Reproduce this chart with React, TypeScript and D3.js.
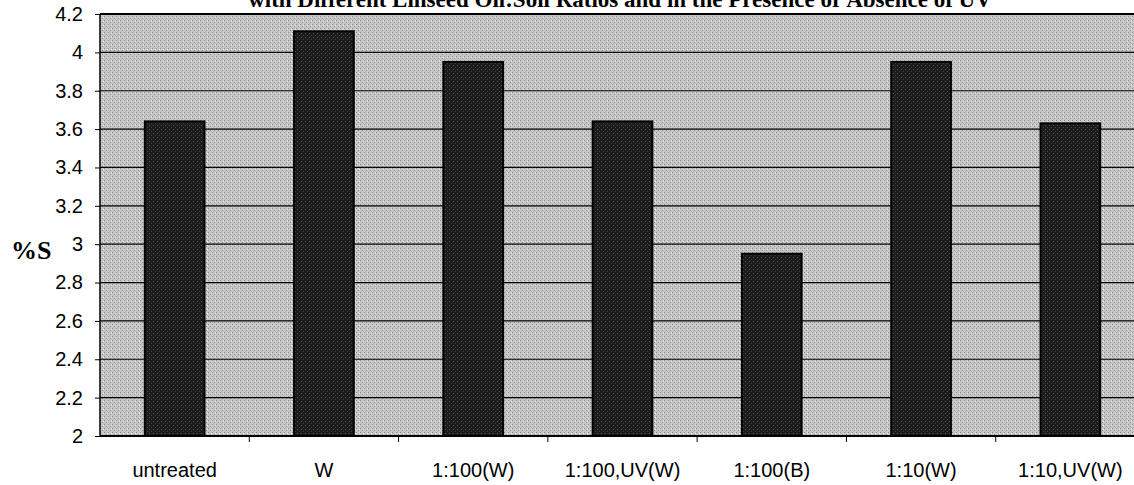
import React, { useEffect, useRef } from 'react';
import * as d3 from 'd3';

const categories = ['untreated', 'W', '1:100(W)', '1:100,UV(W)', '1:100(B)', '1:10(W)', '1:10,UV(W)'];
const sulfur = [3.64, 4.11, 3.95, 3.64, 2.95, 3.95, 3.63];
const yTicks = [2, 2.2, 2.4, 2.6, 2.8, 3, 3.2, 3.4, 3.6, 3.8, 4, 4.2];

const App = () => {
  const svgRef = useRef(null);

  useEffect(() => {
    const width = 1134;
    const height = 485;
    const margin = { top: 14, right: -11, bottom: 49, left: 100 };

    const svg = d3.select(svgRef.current)
      .attr('width', width)
      .attr('height', height);
    svg.selectAll('*').remove();

    const defs = svg.append('defs');
    // dithered grey like the scanned print
    const pat = defs.append('pattern')
      .attr('id', 'dither')
      .attr('width', 4)
      .attr('height', 4)
      .attr('patternUnits', 'userSpaceOnUse');
    pat.append('rect').attr('width', 4).attr('height', 4).attr('fill', '#c6c6c6');
    pat.append('rect').attr('x', 0).attr('y', 0).attr('width', 1).attr('height', 1).attr('fill', '#8a8a8a');
    pat.append('rect').attr('x', 2).attr('y', 2).attr('width', 1).attr('height', 1).attr('fill', '#8a8a8a');
    pat.append('rect').attr('x', 3).attr('y', 1).attr('width', 1).attr('height', 1).attr('fill', '#ececec');

    const barPat = defs.append('pattern')
      .attr('id', 'darkdither')
      .attr('width', 4)
      .attr('height', 4)
      .attr('patternUnits', 'userSpaceOnUse');
    barPat.append('rect').attr('width', 4).attr('height', 4).attr('fill', '#1c1c1c');
    barPat.append('rect').attr('x', 1).attr('y', 1).attr('width', 1).attr('height', 1).attr('fill', '#5a5a5a');
    barPat.append('rect').attr('x', 3).attr('y', 3).attr('width', 1).attr('height', 1).attr('fill', '#444');

    const x = d3.scaleBand()
      .domain(categories)
      .range([margin.left, width - margin.right])
      .paddingInner(0.6)
      .paddingOuter(0.3);

    const y = d3.scaleLinear()
      .domain([2, 4.2])
      .range([height - margin.bottom, margin.top]);

    const x0 = margin.left;
    const x1 = width - margin.right;

    svg.append('rect')
      .attr('x', x0)
      .attr('y', y(4.2))
      .attr('width', x1 - x0)
      .attr('height', y(2) - y(4.2))
      .attr('fill', 'url(#dither)');

    svg.append('g')
      .selectAll('line')
      .data(yTicks)
      .enter()
      .append('line')
      .attr('x1', x0)
      .attr('x2', x1)
      .attr('y1', d => y(d))
      .attr('y2', d => y(d))
      .attr('stroke', '#000')
      .attr('stroke-width', 1.2);

    svg.append('g')
      .selectAll('rect')
      .data(sulfur)
      .enter()
      .append('rect')
      .attr('x', (d, i) => x(categories[i]))
      .attr('y', d => y(d))
      .attr('width', x.bandwidth())
      .attr('height', d => y(2) - y(d))
      .attr('fill', 'url(#darkdither)')
      .attr('stroke', '#000')
      .attr('stroke-width', 2);

    // frame
    svg.append('line')
      .attr('x1', x0).attr('x2', x1)
      .attr('y1', y(4.2)).attr('y2', y(4.2))
      .attr('stroke', '#000').attr('stroke-width', 2);
    svg.append('line')
      .attr('x1', x0).attr('x2', x1)
      .attr('y1', y(2)).attr('y2', y(2))
      .attr('stroke', '#000').attr('stroke-width', 2);
    svg.append('line')
      .attr('x1', x0).attr('x2', x0)
      .attr('y1', y(4.2)).attr('y2', y(2))
      .attr('stroke', '#000').attr('stroke-width', 1.5);

    const yAxis = svg.append('g')
      .attr('transform', `translate(${x0},0)`)
      .call(d3.axisLeft(y).tickValues(yTicks).tickSize(5).tickPadding(12).tickFormat(d3.format('')));
    yAxis.select('.domain').remove();
    yAxis.selectAll('text')
      .attr('font-family', 'Arial, "Liberation Sans", sans-serif')
      .attr('font-size', 20)
      .attr('fill', '#000');

    // category boundary ticks
    const gap = (x.step() - x.bandwidth()) / 2;
    svg.append('g')
      .selectAll('line')
      .data(categories.slice(1))
      .enter()
      .append('line')
      .attr('x1', d => x(d) - gap)
      .attr('x2', d => x(d) - gap)
      .attr('y1', y(2))
      .attr('y2', y(2) + 6)
      .attr('stroke', '#000')
      .attr('stroke-width', 1);

    svg.append('g')
      .selectAll('text')
      .data(categories)
      .enter()
      .append('text')
      .attr('x', d => x(d) + x.bandwidth() / 2)
      .attr('y', 477)
      .attr('text-anchor', 'middle')
      .attr('font-family', 'Arial, "Liberation Sans", sans-serif')
      .attr('font-size', 20)
      .attr('fill', '#000')
      .text(d => d);

    svg.append('text')
      .attr('x', 11)
      .attr('y', 259)
      .attr('font-family', '"Times New Roman", "Liberation Serif", serif')
      .attr('font-weight', 'bold')
      .attr('font-size', 26)
      .text('%S');

    svg.append('text')
      .attr('x', 620)
      .attr('y', 7)
      .attr('text-anchor', 'middle')
      .attr('font-family', '"Times New Roman", "Liberation Serif", serif')
      .attr('font-weight', 'bold')
      .attr('font-size', 23)
      .text('with Different Linseed Oil:Soil Ratios and in the Presence or Absence of UV');
  }, []);

  return (
    <div style={{ position: 'absolute', left: 0, top: 0 }}>
      <svg ref={svgRef} style={{ display: 'block', background: '#fff' }} />
    </div>
  );
};

export default App;
